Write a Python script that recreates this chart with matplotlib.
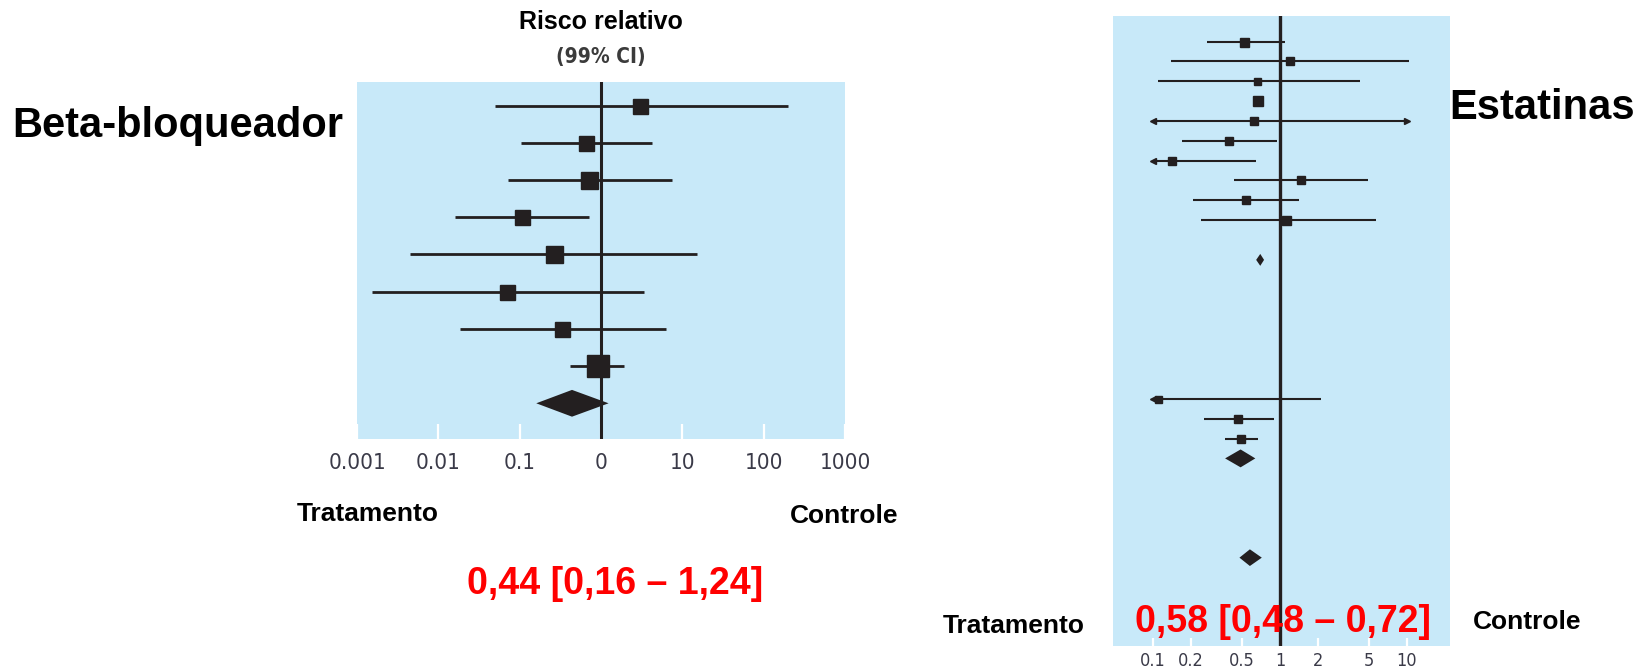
import matplotlib
matplotlib.use('Agg')
import matplotlib.pyplot as plt

# データ: ベータ遮断薬 (左)
bb_rr = [3.02, 0.653, 0.711, 0.107, 0.263, 0.069, 0.327, 0.912]
bb_lo = [0.050, 0.105, 0.072, 0.016, 0.0045, 0.00155, 0.0186, 0.41]
bb_hi = [200, 4.27, 7.5, 0.71, 15.1, 3.4, 6.3, 1.9]
bb_w = [15, 15, 17, 15, 17, 15, 15, 22]
bb_pool = (0.16, 0.44, 1.24)
bb_ticks = [0.001, 0.01, 0.1, 1, 10, 100, 1000]
bb_labels = ['0.001', '0.01', '0.1', '0', '10', '100', '1000']

# データ: スタチン (右)
st_row = [0, 1, 2, 3, 4, 5, 6, 7, 8, 9, 18, 19, 20]
st_rr = [0.52, 1.19, 0.66, 0.67, 0.62, 0.40, 0.14, 1.46, 0.54, 1.11, 0.11, 0.465, 0.49]
st_lo = [0.265, 0.139, 0.109, 0.67, 0.1, 0.169, 0.1, 0.435, 0.207, 0.24, 0.1, 0.253, 0.37]
st_hi = [1.10, 10.4, 4.25, 0.67, 10, 0.955, 0.645, 4.9, 1.42, 5.7, 2.1, 0.90, 0.67]
st_w = [9, 8, 7, 10, 8, 8, 8, 8, 8, 9, 7, 8, 8]
st_arrow_l = [4, 6, 18]
st_arrow_r = [4]
st_pool_row = [11, 21, 26]
st_pool = [(0.65, 0.70, 0.75), (0.37, 0.49, 0.64), (0.48, 0.58, 0.72)]
st_pool_h = [0.3, 0.45, 0.42]
st_ticks = [0.1, 0.2, 0.5, 1, 2, 5, 10]
st_labels = ['0.1', '0.2', '0.5', '1', '2', '5', '10']

W, H = 1643, 671
BG = '#c8e9f9'
INK = '#231f20'
TICKC = '#3a3a48'
BOLD = ['Liberation Sans', 'DejaVu Sans']
NARROW = ['DejaVu Sans']

fig = plt.figure(figsize=(W / 100, H / 100), dpi=100)


def px_axes(x0, y0, x1, y1):
    # ピクセル座標 (左上原点) で軸を配置
    return fig.add_axes([x0 / W, 1 - y1 / H, (x1 - x0) / W, (y1 - y0) / H])


def diamond(ax, row, lo, mid, hi, h):
    ax.fill([lo, mid, hi, mid], [row, row - h, row, row + h], color=INK, lw=0, zorder=4)


# 左パネル --- (*1)
ax1 = px_axes(357, 82, 845, 439)
ax1.set_facecolor(BG)
ax1.set_xscale('log')
ax1.set_xlim(0.001, 1000)
ax1.set_ylim(8.96, -0.637)
ax1.axvline(1, color=INK, lw=2.2, zorder=3)
for i in range(len(bb_rr)):
    ax1.plot([bb_lo[i], bb_hi[i]], [i, i], color=INK, lw=2.0, zorder=2, solid_capstyle='butt')
    ax1.plot(bb_rr[i], i, 's', color=INK, ms=bb_w[i] * 0.72, zorder=5)
diamond(ax1, len(bb_rr), bb_pool[0], bb_pool[1], bb_pool[2], 0.36)
ax1.set_xticks(bb_ticks)
ax1.set_xticklabels(bb_labels)
ax1.set_xticks([], minor=True)
ax1.set_yticks([])
ax1.tick_params(axis='x', direction='in', length=11, width=1.6, color='white',
                pad=10, labelsize=16, labelcolor=TICKC)
for lab in ax1.get_xticklabels():
    lab.set_family(NARROW)
    lab.set_stretch('condensed')
for s in ax1.spines.values():
    s.set_visible(False)

# 右パネル --- (*2)
ax2 = px_axes(1113, 16, 1450, 646)
ax2.set_facecolor(BG)
ax2.set_xscale('log')
ax2.set_xlim(10 ** -1.315, 10 ** 1.34)
ax2.set_ylim(30.45, -1.285)
ax2.axvline(1, color=INK, lw=2.4, zorder=3)
for i, r in enumerate(st_row):
    ax2.plot([st_lo[i], st_hi[i]], [r, r], color=INK, lw=1.5, zorder=2, solid_capstyle='butt')
    ax2.plot(st_rr[i], r, 's', color=INK, ms=st_w[i] * 0.72, zorder=5)
    if r in st_arrow_l:
        ax2.plot(st_lo[i], r, '<', color=INK, ms=5, zorder=4)
    if r in st_arrow_r:
        ax2.plot(st_hi[i], r, '>', color=INK, ms=5, zorder=4)
for r, (lo, mid, hi), h in zip(st_pool_row, st_pool, st_pool_h):
    diamond(ax2, r, lo, mid, hi, h)
ax2.set_xticks(st_ticks)
ax2.set_xticklabels(st_labels)
ax2.set_xticks([], minor=True)
ax2.set_yticks([])
ax2.tick_params(axis='x', direction='in', length=6, width=1.6, color='white',
                pad=4, labelsize=13, labelcolor=TICKC)
for lab in ax2.get_xticklabels():
    lab.set_family(NARROW)
    lab.set_stretch('condensed')
for s in ax2.spines.values():
    s.set_visible(False)


# テキスト --- (*3)
def ptext(x, y, s, **kw):
    fig.text(x / W, 1 - y / H, s, ha='center', va='center', **kw)


ptext(601, 22, 'Risco relativo', fontsize=18, fontweight='bold', family=BOLD)
ptext(601, 57, '(99% CI)', fontsize=15, fontweight='bold', family=NARROW,
      fontstretch='condensed', color='#3b3b3b')
ptext(178, 126, 'Beta-bloqueador', fontsize=30, fontweight='bold', family=BOLD)
ptext(1542, 108, 'Estatinas', fontsize=30, fontweight='bold', family=BOLD)
ptext(368, 514, 'Tratamento', fontsize=19, fontweight='bold', family=BOLD)
ptext(844, 516, 'Controle', fontsize=19, fontweight='bold', family=BOLD)
ptext(1014, 626, 'Tratamento', fontsize=19, fontweight='bold', family=BOLD)
ptext(1527, 622, 'Controle', fontsize=19, fontweight='bold', family=BOLD)
ptext(615, 584, '0,44 [0,16 – 1,24]', fontsize=27, fontweight='bold', family=BOLD, color='#ff0000')
ptext(1283, 622, '0,58 [0,48 – 0,72]', fontsize=27, fontweight='bold', family=BOLD, color='#ff0000')

fig.savefig('out.png', dpi=100)
